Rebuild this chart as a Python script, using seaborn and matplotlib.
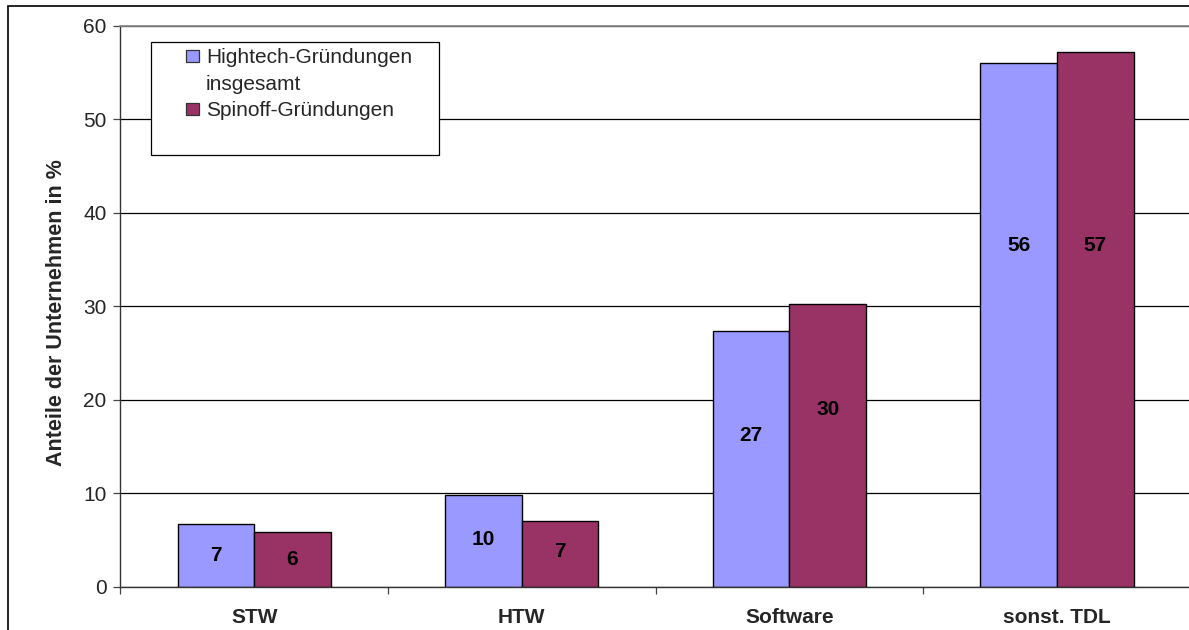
import matplotlib
matplotlib.use("Agg")
import matplotlib.pyplot as plt
import matplotlib.patches as mpatches
from matplotlib.ticker import FixedLocator, NullFormatter
import seaborn as sns
import pandas as pd

categories = ["STW", "HTW", "Software", "sonst. TDL"]
series_names = ["Hightech-Gründungen insgesamt", "Spinoff-Gründungen"]
legend_lines = ["Hightech-Gründungen", "insgesamt", "Spinoff-Gründungen"]
hightech = [6.7, 9.8, 27.4, 56.0]
spinoff = [5.8, 7.0, 30.2, 57.2]
y_ticks = [0, 10, 20, 30, 40, 50, 60]

# label anchor heights (data units) as placed in the reference
label_y_hightech = [3.3, 5.0, 16.2, 36.5]
label_y_spinoff = [2.9, 3.8, 19.0, 36.5]

colors = ["#9999FF", "#993366"]

df = pd.DataFrame({
    "cat": categories * 2,
    "val": hightech + spinoff,
    "series": [series_names[0]] * 4 + [series_names[1]] * 4,
})

sns.set_theme(style="white")
plt.rcParams["font.family"] = ["Liberation Sans", "DejaVu Sans"]

W, H = 1189, 630
fig = plt.figure(figsize=(W / 100, H / 100), dpi=100)
ax_left, ax_right = 120.4 / W, 1190.8 / W
ax_top, ax_bot = 1 - 25.7 / H, 1 - 586.7 / H
ax = fig.add_axes([ax_left, ax_bot, ax_right - ax_left, ax_top - ax_bot])

sns.barplot(data=df, x="cat", y="val", hue="series", order=categories,
            hue_order=series_names, palette=colors, width=0.572, gap=0,
            edgecolor="black", linewidth=1.0, saturation=1, ax=ax,
            legend=False, errorbar=None)

ax.set_xlim(-0.5, 3.5)
ax.set_ylim(0, 60)
ax.set_yticks(y_ticks)
ax.set_yticklabels([str(t) for t in y_ticks], fontsize=15)
ax.yaxis.grid(True, color="black", linewidth=0.9)
ax.set_axisbelow(True)

# x ticks at boundaries, labels at centers
ax.xaxis.set_major_locator(FixedLocator([-0.5, 0.5, 1.5, 2.5, 3.5]))
ax.xaxis.set_major_formatter(NullFormatter())
ax.set_xticks(range(len(categories)), minor=True)
ax.set_xticklabels(categories, minor=True, fontsize=15, fontweight="bold")
ax.tick_params(axis="x", which="major", direction="out", length=5, width=0.9,
               color="#444444", bottom=True)
ax.tick_params(axis="x", which="minor", length=0, pad=15)
ax.tick_params(axis="y", direction="out", length=5, width=0.9, color="#444444",
               left=True, pad=5)
ax.set_xlabel("")
ax.set_ylabel("Anteile der Unternehmen in %", fontsize=15.5, fontweight="bold")
ax.yaxis.set_label_coords((67 - 120.4) / 1070.4, 0.5 - 6 / 561)

for s in ["left", "bottom"]:
    ax.spines[s].set_color("#333333")
    ax.spines[s].set_linewidth(1.0)
ax.spines["top"].set_color("#888888")
ax.spines["right"].set_visible(False)

# bar value labels
for i, cont in enumerate(ax.containers):
    ys = label_y_hightech if i == 0 else label_y_spinoff
    vals = hightech if i == 0 else spinoff
    for bar, y, v in zip(cont.patches, ys, vals):
        ax.text(bar.get_x() + bar.get_width() / 2, y, f"{v:.0f}",
                ha="center", va="center", fontsize=15, fontweight="bold",
                color="black")

# legend box
leg_box = mpatches.Rectangle((151 / W, 1 - 155 / H), (439 - 151) / W,
                             (155 - 42) / H, transform=fig.transFigure,
                             facecolor="white", edgecolor="black",
                             linewidth=0.9, zorder=4)
ax.add_patch(leg_box)

handles = [mpatches.Patch(facecolor=colors[0], edgecolor="#333333", linewidth=0.9),
           mpatches.Patch(facecolor="none", edgecolor="none"),
           mpatches.Patch(facecolor=colors[1], edgecolor="#333333", linewidth=0.9)]
leg = ax.legend(handles, legend_lines, loc="upper left",
                bbox_to_anchor=(186 / W, 1 - 48 / H),
                bbox_transform=fig.transFigure,
                frameon=False, fontsize=15, handlelength=0.6,
                handleheight=0.5, handletextpad=0.35, labelspacing=0.36,
                borderpad=0, borderaxespad=0)
leg.set_zorder(6)

# outer chart frame
frame = mpatches.Rectangle((8 / W, -0.05), 1.1, 1 - 6 / H + 0.05,
                           transform=fig.transFigure, facecolor="none",
                           edgecolor="black", linewidth=1.2, clip_on=False)
fig.patches.append(frame)

fig.savefig("out.png", dpi=100)
